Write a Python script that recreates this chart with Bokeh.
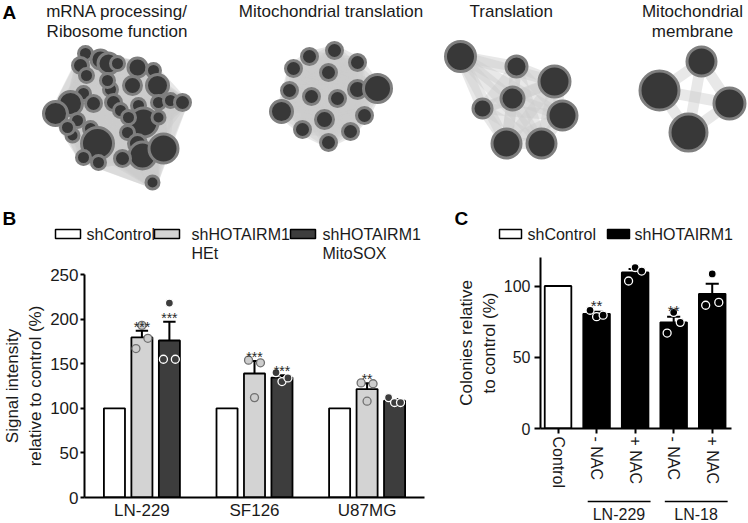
import numpy as np
from bokeh.plotting import figure
from bokeh.models import Range1d, FixedTicker
from bokeh.layouts import column, row
from bokeh.embed import file_html
from bokeh.resources import INLINE
from bokeh.core.properties import value

FONT = "Liberation Sans"
INK = "#1a1a1a"

# ---------------- Panel A: enrichment-map clusters (layout coords + node size)
cluster_titles = [["mRNA processing/", "Ribosome function"], ["Mitochondrial translation"],
                  ["Translation"], ["Mitochondrial", "membrane"]]
c1_x = [85, 80, 100, 108, 117, 137, 153, 86, 157, 132, 110, 83, 70, 55, 93, 113, 138, 158, 170, 182,
        77, 90, 72, 143, 158, 97, 127, 137, 142, 163, 83, 98, 122, 152, 107, 67, 120, 128]
c1_y = [53, 65, 59, 63, 63, 67, 70, 75, 85, 85, 89, 93, 103, 113, 103, 102, 105, 102, 100, 102,
        120, 128, 135, 122, 117, 143, 132, 143, 155, 148, 157, 162, 158, 182, 80, 127, 110, 117]
c1_r = [8.5, 9.5, 11, 12, 8.5, 11, 8.5, 8.5, 12.5, 10.5, 8.5, 8.5, 13.5, 13.5, 9.5, 9.5, 8.5, 8.5, 8.5, 9.5,
        8.5, 8.5, 8, 16, 8, 17.5, 8.5, 10.5, 15, 16, 8.5, 8.5, 9.5, 8, 8.5, 8.5, 8.5, 8.5]
c2_x = [309, 334, 357, 293, 328, 289, 311, 337, 357, 377, 281, 324, 364, 302, 350, 328]
c2_y = [56, 50, 62, 68, 72, 90, 96, 98, 89, 88, 111, 119, 115, 129, 131, 142]
c2_r = [9.5, 9.5, 9.5, 9.5, 9.5, 9.5, 9.5, 9.5, 10.5, 15.5, 12.5, 10.5, 9.5, 9.5, 9.5, 9.5]
c3_x = [460, 516, 554, 512, 482, 562, 506, 541]
c3_y = [56, 66, 81, 98, 108, 115, 143, 143]
c3_r = [16.5, 12, 17, 13, 11, 16, 16, 16]
c4_x = [701, 659, 729, 688]
c4_y = [61, 90, 103, 132]
c4_r = [16, 21, 17, 20]

# ---------------- Panel B
cell_lines = ["LN-229", "SF126", "U87MG"]
b_series = ["shControl", "shHOTAIRM1\nHEt", "shHOTAIRM1\nMitoSOX"]
b_control = [100, 100, 100]
b_het_mean = [179.5, 139, 121.5]
b_het_sem = [7.5, 14, 6.5]
b_het_reps = [[167, 193, 178.5], [154, 112, 151], [128.5, 108, 127.5]]
b_mito_mean = [176, 134.5, 108.5]
b_mito_sem = [21, 2.5, 2]
b_mito_reps = [[155, 218, 155], [140, 130, 134], [112, 106.5, 106.5]]
b_het_sig = ["***", "***", "**"]
b_mito_sig = ["***", "***", ""]
b_yticks = [0, 50, 100, 150, 200, 250]

# ---------------- Panel C
c_labels = ["Control", "- NAC", "+ NAC", "- NAC", "+ NAC"]
c_lines = ["", "LN-229", "LN-229", "LN-18", "LN-18"]
c_series = ["shControl", "shHOTAIRM1"]
c_series_of_bar = [0, 1, 1, 1, 1]
c_mean = [100, 80.5, 109.5, 74.5, 94.5]
c_sem = [0, 1.5, 2.5, 4, 7]
c_reps = [[], [83, 78.5, 79.5], [103.5, 113, 110.5], [67, 81.5, 74.5], [86.5, 108.5, 88.5]]
c_sig = ["", "**", "", "**", ""]
c_yticks = [0, 50, 100]

# ---------------- helpers
def make_fig(w, h, xr, yr, **kw):
    f = figure(width=w, height=h, x_range=xr, y_range=yr, output_backend="svg",
               toolbar_location=None, **kw)
    f.grid.visible = False
    f.outline_line_color = None
    f.frame_align = False
    return f

def style_axis(ax, size):
    ax.axis_line_width = 2
    ax.axis_line_color = "black"
    ax.major_tick_line_width = 2
    ax.major_tick_line_color = "black"
    ax.major_tick_in = 0
    ax.minor_tick_line_color = None
    ax.major_label_text_font = FONT
    ax.major_label_text_font_size = size
    ax.major_label_text_color = INK
    ax.axis_label_text_font = FONT
    ax.axis_label_text_font_style = "normal"
    ax.axis_label_text_color = INK

def letter(f, x, y, t):
    f.text(x=[x], y=[y], text=[t], text_font=value(FONT), text_font_style="bold",
           text_font_size="19px", text_baseline="middle", text_color="black")

def legend_texts(f, xs, y0, labels, dy=19):
    lx, ly, lt = [], [], []
    for x, lab in zip(xs, labels):
        for i, part in enumerate(lab.split("\n")):
            lx.append(x); ly.append(y0 + dy * i); lt.append(part)
    f.text(x=lx, y=ly, text=lt, text_font=value(FONT), text_font_size="16px",
           text_baseline="middle", text_color=INK)

# ================= Panel A
pA = make_fig(747, 197, Range1d(0, 747), Range1d(197, 0), min_border=0,
              x_axis_location=None, y_axis_location=None)
clusters = [(c1_x, c1_y, c1_r), (c2_x, c2_y, c2_r), (c3_x, c3_y, c3_r), (c4_x, c4_y, c4_r)]
for xs, ys, rs in clusters:
    xs = np.array(xs, float); ys = np.array(ys, float)
    ii, jj = np.triu_indices(len(xs), 1)
    pA.segment(xs[ii], ys[ii], xs[jj], ys[jj], line_color="#cdcdcd", line_alpha=0.45, line_width=11)
tx, ty, tt = [], [], []
for (xs, ys, rs), lines in zip(clusters, cluster_titles):
    xs = np.array(xs, float); ys = np.array(ys, float); rs = np.array(rs, float)
    pA.circle(xs, ys, radius=rs - 1.5, fill_color="#383838", line_color="#7f7f7f", line_width=3)
    cxm = ((xs - rs).min() + (xs + rs).max()) / 2
    for li, t in enumerate(lines):
        tx.append(cxm); ty.append(11 + 20 * li); tt.append(t)
pA.text(x=tx, y=ty, text=tt, text_align="center", text_baseline="middle",
        text_font=value(FONT), text_font_size="17px", text_color=INK)
pA.text(x=[2], y=[12], text=["A"], text_font=value(FONT), text_font_style="bold",
        text_font_size="19px", text_baseline="middle", text_color="black")

# ================= Panel B
b_colors = ["white", "#d3d3d3", "#3d3d3d"]
b_dot_fill = [None, "#cdcdcd", "#3d3d3d"]
b_dot_line = [None, "#707070", "white"]

pBh = make_fig(440, 67, Range1d(0, 440), Range1d(67, 0), min_border=0,
               x_axis_location=None, y_axis_location=None)
letter(pBh, 2, 21, "B")
bx = [55, 154, 290]
pBh.quad(left=bx, right=[v + 25 for v in bx], top=[32] * 3, bottom=[41] * 3,
         fill_color=b_colors, line_color="black", line_width=1.5)
legend_texts(pBh, [86, 191, 322], 37, b_series)

pB = make_fig(440, 258, Range1d(-0.51, 2.51), Range1d(0, 250), min_border_left=84,
              min_border_right=16, min_border_top=10, min_border_bottom=22)
offs = [-0.244, 0.0, 0.244]
bw = 0.187
gx = np.arange(len(cell_lines), dtype=float)
means = [b_control, b_het_mean, b_mito_mean]
sems = [None, b_het_sem, b_mito_sem]
reps = [None, b_het_reps, b_mito_reps]
sigs = [None, b_het_sig, b_mito_sig]
jit = np.array([-0.053, 0.0, 0.053])
for k in range(3):
    xc = gx + offs[k]
    pB.vbar(x=xc, top=means[k], width=bw, bottom=0, fill_color=b_colors[k],
            line_color="black", line_width=1.8)
for k in (1, 2):
    xc = gx + offs[k]
    m = np.array(means[k], float); tops = m + np.array(sems[k], float)
    pB.segment(xc, m, xc, tops, line_color="black", line_width=2)
    pB.segment(xc - 0.055, tops, xc + 0.055, tops, line_color="black", line_width=2)
    dx = np.concatenate([xc[g] + jit for g in range(len(xc))])
    dy = np.concatenate([np.array(r, float) for r in reps[k]])
    pB.scatter(dx, dy, size=8, marker="circle", fill_color=b_dot_fill[k],
               line_color=b_dot_line[k], line_width=1.3)
    pB.text(x=xc, y=tops + 4.5, text=sigs[k], text_align="center", text_baseline="alphabetic",
            text_font=value(FONT), text_font_size="14px", text_color="#2a2a2a")

pB.xaxis.ticker = FixedTicker(ticks=list(range(len(cell_lines))))
pB.xaxis.major_label_overrides = {i: n for i, n in enumerate(cell_lines)}
pB.yaxis.ticker = FixedTicker(ticks=b_yticks)
style_axis(pB.xaxis[0], "17px")
style_axis(pB.yaxis[0], "17px")
pB.xaxis.major_tick_line_color = None
pB.xaxis.major_tick_out = 0
pB.xaxis.major_label_standoff = 3
pB.yaxis.major_tick_out = 4
pB.yaxis.major_label_standoff = 2
pB.yaxis.axis_label = "Signal intensity\nrelative to control (%)"
pB.yaxis.axis_label_text_font_size = "17px"
pB.yaxis.axis_label_standoff = 2

# ================= Panel C
c_colors = ["white", "black"]
pCh = make_fig(307, 53, Range1d(0, 307), Range1d(53, 0), min_border=0,
               x_axis_location=None, y_axis_location=None)
letter(pCh, 14, 21, "C")
cbx = [59, 167]
pCh.quad(left=cbx, right=[v + 22 for v in cbx], top=[32] * 2, bottom=[41] * 2,
         fill_color=c_colors, line_color="black", line_width=1.5)
legend_texts(pCh, [87, 194], 37, c_series)

pC = make_fig(307, 243, Range1d(-0.455, 4.5), Range1d(0, 120), min_border_left=100,
              min_border_right=16, min_border_top=7, min_border_bottom=65)
cx = np.arange(len(c_labels), dtype=float)
pC.vbar(x=cx, top=c_mean, width=0.69, bottom=0,
        fill_color=[c_colors[s] for s in c_series_of_bar], line_color="black", line_width=1.8)
cm = np.array(c_mean, float); ctop = cm + np.array(c_sem, float)
has = np.array([len(r) > 0 for r in c_reps])
pC.segment(cx[has], cm[has], cx[has], ctop[has], line_color="black", line_width=2)
pC.segment(cx[has] - 0.17, ctop[has], cx[has] + 0.17, ctop[has], line_color="black", line_width=2)
cjit = np.array([-0.17, 0.0, 0.17])
cdx = np.concatenate([cx[i] + cjit for i in range(len(cx)) if c_reps[i]])
cdy = np.concatenate([np.array(r, float) for r in c_reps if r])
pC.scatter(cdx, cdy, size=8, marker="circle", fill_color="black", line_color="white", line_width=1.3)
pC.text(x=cx, y=ctop + 4.5, text=c_sig, text_align="center", text_baseline="alphabetic",
        text_font=value(FONT), text_font_size="15px", text_color="#2a2a2a")

pC.xaxis.ticker = FixedTicker(ticks=list(range(len(c_labels))))
pC.xaxis.major_label_overrides = {i: n for i, n in enumerate(c_labels)}
pC.xaxis.major_label_orientation = "vertical"
pC.yaxis.ticker = FixedTicker(ticks=c_yticks)
style_axis(pC.xaxis[0], "16px")
style_axis(pC.yaxis[0], "16px")
pC.xaxis.major_tick_out = 5
pC.xaxis.major_label_standoff = 3
pC.yaxis.major_tick_out = 6
pC.yaxis.major_label_standoff = 4
pC.yaxis.axis_label = "Colonies relative\nto control (%)"
pC.yaxis.axis_label_text_font_size = "17px"
pC.yaxis.axis_label_standoff = 2

pCs = make_fig(307, 29, pC.x_range, Range1d(29, 0), min_border_left=100, min_border_right=16,
               min_border_top=0, min_border_bottom=0, x_axis_location=None, y_axis_location=None)
groups = [g for g in dict.fromkeys(c_lines) if g]
g0, g1, gc = [], [], []
for g in groups:
    idx = [i for i, n in enumerate(c_lines) if n == g]
    g0.append(min(idx) - 0.23); g1.append(max(idx) + 0.4); gc.append((min(idx) + max(idx)) / 2 + 0.08)
pCs.segment(g0, [8] * len(g0), g1, [8] * len(g1), line_color="black", line_width=1.5)
pCs.text(x=gc, y=[21] * len(gc), text=groups, text_align="center", text_baseline="middle",
         text_font=value(FONT), text_font_size="16px", text_color=INK)

layout = column(pA, row(column(pBh, pB), column(pCh, pC, pCs)))
open("out.html", "w").write(file_html(layout, INLINE))
